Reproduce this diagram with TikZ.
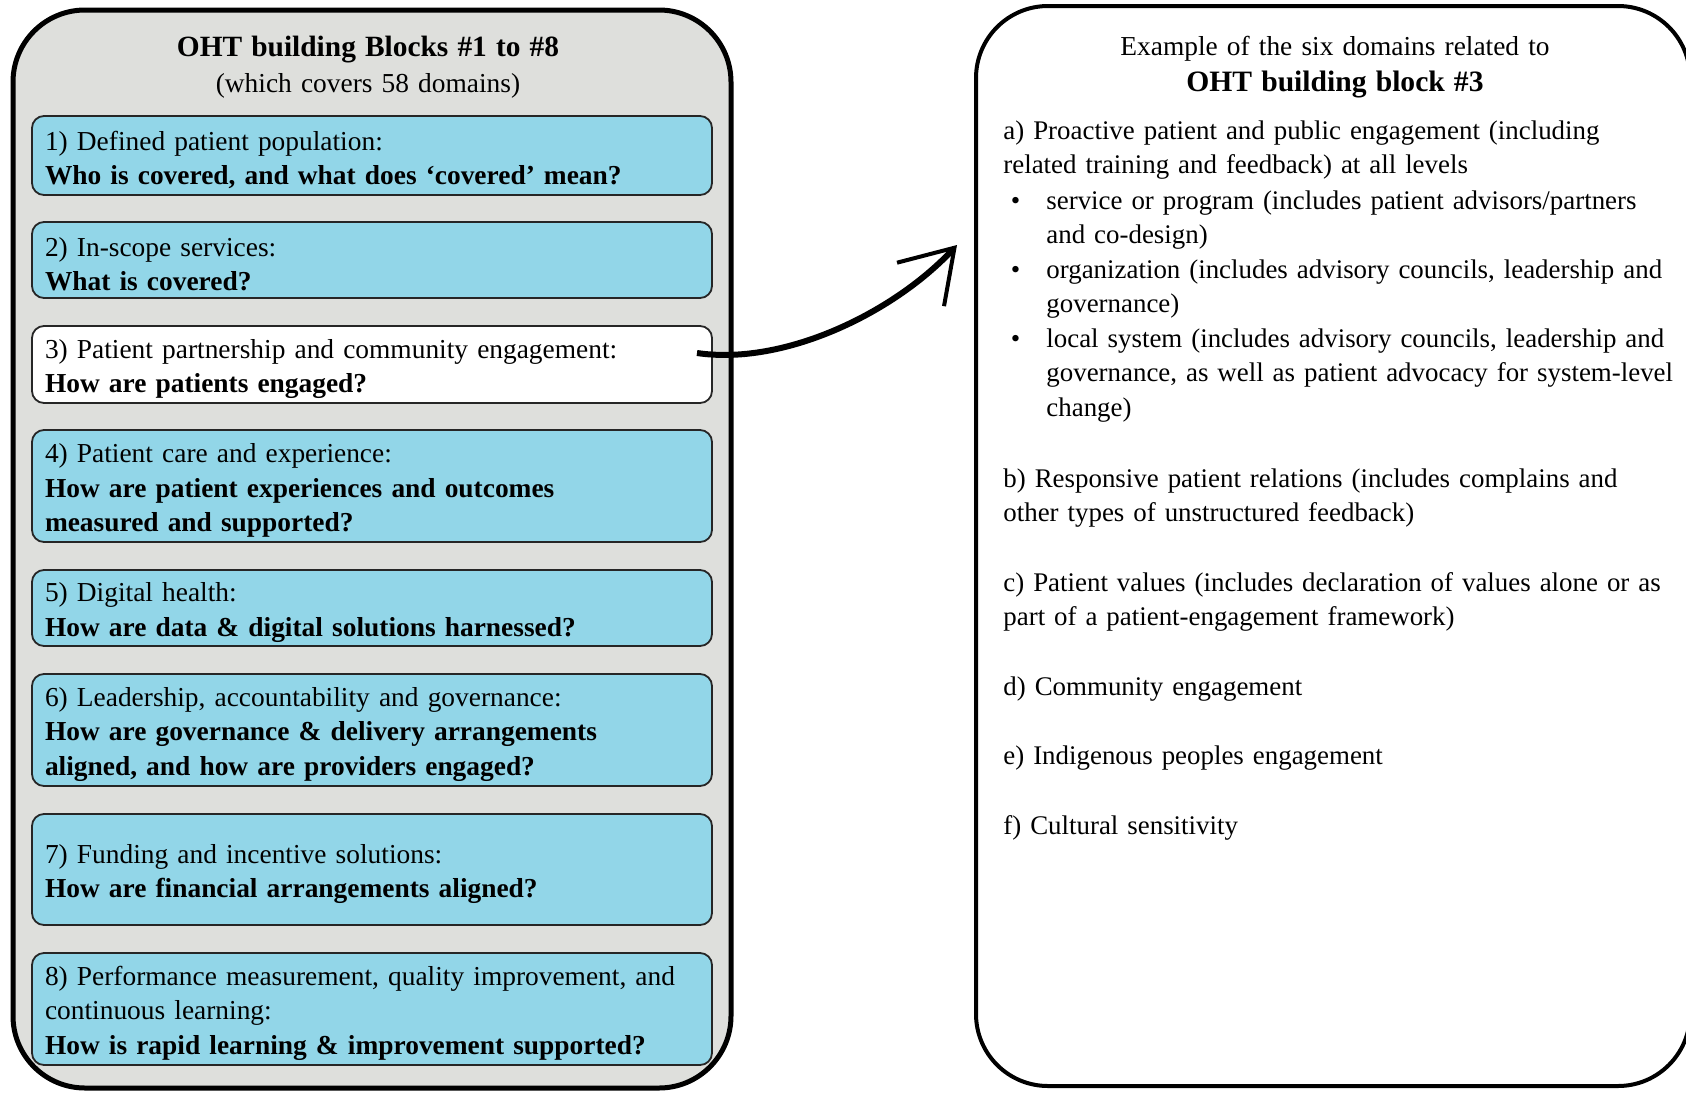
\documentclass[tikz,border=0pt]{standalone}
\usepackage{fontspec}
\setmainfont{Liberation Serif}
\usetikzlibrary{arrows.meta, positioning}
\definecolor{panelgray}{RGB}{222,223,220}
\definecolor{blockblue}{RGB}{146,214,232}

\begin{document}
\begin{tikzpicture}[x=0.5pt, y=-0.5pt,
  every node/.style={font=\fontsize{13.7}{17.2}\selectfont},
  panel/.style={draw=black, rounded corners=36pt, inner sep=0pt},
  blk/.style={draw=black!85, line width=0.9pt, rounded corners=6pt, fill=blockblue, text width=327pt, inner xsep=6.5pt, inner ysep=0pt, align=left, execute at begin node=\rule{0pt}{14pt}},
  item/.style={anchor=base west, inner sep=0pt, text width=350pt, align=left, font=\fontsize{13.45}{17.2}\selectfont}]
  \useasboundingbox (0,0) rectangle (1686,1092);

  % left panel
  \node[panel, line width=2.5pt, fill=panelgray, minimum width=359pt, minimum height=539pt] (lpanel) at (372,549) {};
  \node[anchor=base, inner sep=0pt, text width=400pt, align=center] (ltitle) at (368,56)
    {{\fontsize{14.7}{18}\selectfont\bfseries OHT building Blocks \#1 to \#8}\\[1pt](which covers 58 domains)};

  \node[blk, minimum height=39.5pt] (b1) at (372,155.5) {1) Defined patient population:\\\textbf{Who is covered, and what does `covered' mean?}};
  \node[blk, minimum height=38pt] (b2) at (372,260) {2) In-scope services:\\\textbf{What is covered?}};
  \node[blk, minimum height=38.5pt, fill=white] (b3) at (372,364.5) {3) Patient partnership and community engagement:\\\textbf{How are patients engaged?}};
  \node[blk, minimum height=56pt] (b4) at (372,486) {4) Patient care and experience:\\\textbf{How are patient experiences and outcomes}\\\textbf{measured and supported?}};
  \node[blk, minimum height=38pt] (b5) at (372,608) {5) Digital health:\\\textbf{How are data \& digital solutions harnessed?}};
  \node[blk, minimum height=56pt] (b6) at (372,730) {6) Leadership, accountability and governance:\\\textbf{How are governance \& delivery arrangements}\\\textbf{aligned, and how are providers engaged?}};
  \node[blk, minimum height=55.5pt] (b7) at (372,869.5) {7) Funding and incentive solutions:\\\textbf{How are financial arrangements aligned?}};
  \node[blk, minimum height=56pt] (b8) at (372,1009) {8) Performance measurement, quality improvement, and\\continuous learning:\\\textbf{How is rapid learning \& improvement supported?}};

  % right panel
  \node[panel, line width=2pt, fill=white, minimum width=357pt, minimum height=540pt] (rpanel) at (1333,546) {};
  \node[anchor=base, inner sep=0pt, text width=400pt, align=center] (rtitle) at (1335,55)
    {Example of the six domains related to\\[1pt]{\fontsize{14.8}{18}\selectfont\bfseries OHT building block \#3}};

  \node[item] (da) at (1003,139.5) {a) Proactive patient and public engagement (including\\related training and feedback) at all levels};
  \node[item] (da1) at (1046,209.5) {\llap{\textbullet\hspace{13pt}}service or program (includes patient advisors/partners\\and co-design)};
  \node[item] (da2) at (1046,278.5) {\llap{\textbullet\hspace{13pt}}organization (includes advisory councils, leadership and\\governance)};
  \node[item] (da3) at (1046,347.5) {\llap{\textbullet\hspace{13pt}}local system (includes advisory councils, leadership and\\governance, as well as patient advocacy for system-level\\change)};
  \node[item] (db) at (1003,487) {b) Responsive patient relations (includes complains and\\other types of unstructured feedback)};
  \node[item] (dc) at (1003,591.5) {c) Patient values (includes declaration of values alone or as\\part of a patient-engagement framework)};
  \node[item] (dd) at (1003,695.5) {d) Community engagement};
  \node[item] (de) at (1003,764.5) {e) Indigenous peoples engagement};
  \node[item] (df) at (1003,834.5) {f) Cultural sensitivity};

  % arrow from block 3
  \coordinate (arrS) at (697,353);
  \coordinate (arrE) at (957,245);
  \draw[line width=3pt, -{Straight Barb[length=25pt, width=32pt, line width=2pt]}] (arrS) .. controls (785,366) and (895,312) .. (arrE);
\end{tikzpicture}
\end{document}
